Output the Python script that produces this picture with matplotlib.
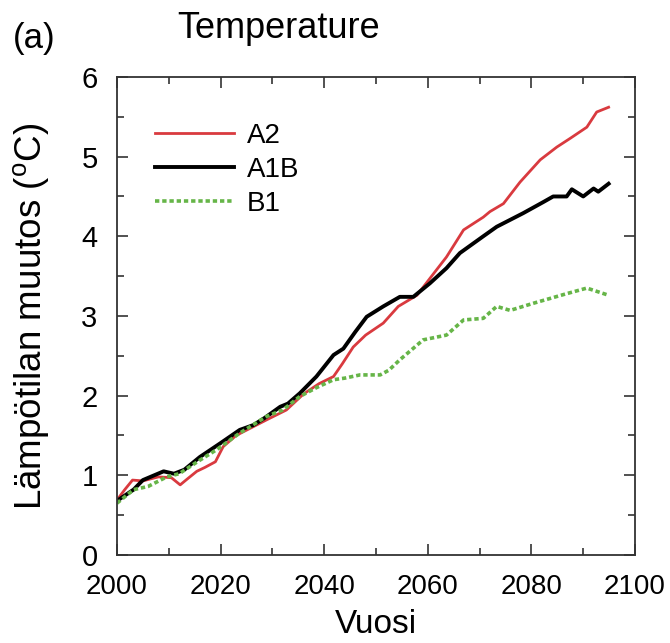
import matplotlib
matplotlib.use('Agg')
import matplotlib.pyplot as plt
from matplotlib.ticker import MultipleLocator

plt.rcParams['font.family'] = ['Liberation Sans', 'DejaVu Sans']
plt.rcParams['mathtext.fontset'] = 'custom'
plt.rcParams['mathtext.rm'] = 'Liberation Sans'

# A2 scenario
a2_years = [2000, 2001.5, 2003, 2005, 2008, 2010.5, 2012.2, 2013.5, 2015.4, 2017, 2019,
            2020.5, 2023, 2026, 2029, 2032.7, 2036, 2039, 2041.8, 2043.5, 2045.6, 2048,
            2051.4, 2054.3, 2057.9, 2061.1, 2063.6, 2066.9, 2070.7, 2072, 2074.6, 2077.8,
            2081.7, 2084.9, 2087.5, 2090.7, 2092.6, 2094.9]
a2_vals = [0.69, 0.82, 0.94, 0.93, 0.98, 0.97, 0.88, 0.95, 1.05, 1.10, 1.17,
           1.36, 1.50, 1.60, 1.70, 1.82, 2.02, 2.15, 2.24, 2.40, 2.61, 2.76,
           2.91, 3.12, 3.26, 3.53, 3.74, 4.08, 4.24, 4.31, 4.41, 4.68,
           4.96, 5.12, 5.23, 5.37, 5.56, 5.62]

# A1B scenario
a1b_years = [2000, 2003.2, 2005, 2009, 2011, 2013, 2016, 2019.9, 2023.7, 2026.3, 2028.5,
             2031.5, 2033, 2035.3, 2038.5, 2041.8, 2043.7, 2046, 2048.2, 2051.4, 2054.6,
             2057.2, 2060.4, 2063.6, 2066.2, 2070.7, 2073.3, 2078.4, 2082.3, 2084.2,
             2086.8, 2087.8, 2090, 2092, 2092.9, 2094.9]
a1b_vals = [0.68, 0.82, 0.94, 1.05, 1.02, 1.07, 1.23, 1.40, 1.57, 1.63, 1.72,
            1.86, 1.90, 2.03, 2.24, 2.51, 2.59, 2.80, 2.99, 3.12, 3.24,
            3.24, 3.41, 3.60, 3.79, 4.00, 4.12, 4.29, 4.43, 4.50,
            4.50, 4.59, 4.50, 4.60, 4.56, 4.66]

# B1 scenario
b1_years = [2000, 2003.2, 2006, 2009.6, 2012, 2016, 2019.2, 2023.7, 2028.9, 2032, 2035.3,
            2038.5, 2041.8, 2044, 2046.9, 2050.8, 2052.5, 2054.6, 2059.1, 2063.6, 2066.9,
            2070.7, 2073.3, 2075.9, 2080.4, 2083.6, 2086.8, 2090.7, 2094.9]
b1_vals = [0.65, 0.82, 0.86, 0.98, 1.02, 1.19, 1.32, 1.53, 1.74, 1.82, 1.99,
           2.10, 2.20, 2.22, 2.26, 2.26, 2.32, 2.45, 2.70, 2.76, 2.95,
           2.97, 3.12, 3.07, 3.16, 3.22, 3.28, 3.35, 3.26]

fig = plt.figure(figsize=(6.7, 6.43), dpi=100)
ax = fig.add_axes([0.1746, 0.1369, 0.7732, 0.7434])

ax.plot(a2_years, a2_vals, color='#d93a3f', lw=2.0, label='A2')
ax.plot(a1b_years, a1b_vals, color='black', lw=2.8, label='A1B')
ax.plot(b1_years, b1_vals, color='#66b548', lw=2.6, linestyle=(0, (1.2, 0.8)), label='B1')

ax.set_xlim(2000, 2100)
ax.set_ylim(0, 6)
ax.xaxis.set_major_locator(MultipleLocator(20))
ax.xaxis.set_minor_locator(MultipleLocator(10))
ax.yaxis.set_major_locator(MultipleLocator(1))
ax.yaxis.set_minor_locator(MultipleLocator(0.5))
ax.tick_params(which='both', direction='in', top=True, right=True,
               color='#333333', width=1.2)
ax.tick_params(which='major', length=8)
ax.tick_params(which='minor', length=5)
ax.tick_params(axis='x', which='major', labelsize=20, pad=14)
ax.tick_params(axis='y', which='major', labelsize=21, pad=14)
for s in ax.spines.values():
    s.set_linewidth(1.3)
    s.set_color('#333333')

ax.set_xlabel('Vuosi', fontsize=24)
ax.xaxis.set_label_coords(0.5, -0.112)
ax.set_ylabel('Lämpötilan muutos ($^{\\rm o}$C)', fontsize=26.5)
ax.yaxis.set_label_coords(-0.125, 0.5)

ax.legend(loc='upper left', frameon=False, fontsize=20, handlelength=2.85,
          handletextpad=0.45, labelspacing=0.3, bbox_to_anchor=(0.025, 0.957))

fig.text(0.019, 0.926, '(a)', fontsize=25, ha='left', va='baseline')
fig.text(0.264, 0.941, 'Temperature', fontsize=26, ha='left', va='baseline')

fig.savefig('out.png', dpi=100)
